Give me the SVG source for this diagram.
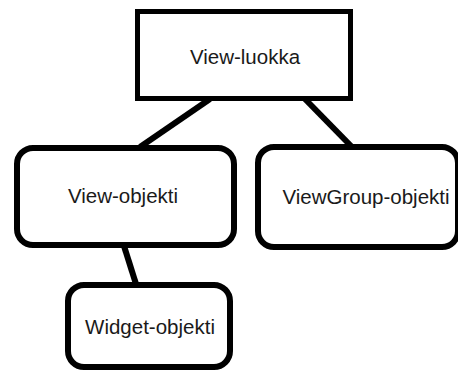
<svg xmlns="http://www.w3.org/2000/svg" width="458" height="371" viewBox="0 0 458 371">
<style>
.box{fill:#fff;stroke:#000;stroke-width:6}
.lbl{font-family:"Liberation Sans",Arial,sans-serif;font-size:20.5px;fill:#1a1a1a;text-anchor:middle}
.conn{stroke:#000;stroke-width:6;fill:none}
</style>
<rect width="458" height="371" fill="#fff"/>
<g id="connectors">
<line class="conn" x1="210" y1="99" x2="140" y2="147"/>
<line class="conn" x1="305" y1="99" x2="352" y2="147"/>
<line class="conn" x1="124" y1="246" x2="136" y2="284"/>
</g>
<g id="view-luokka">
<rect class="box" x="137.5" y="11.5" width="213" height="87" style="stroke-width:5"/>
<text class="lbl" x="245" y="63.5">View-luokka</text>
</g>
<g id="view-objekti">
<rect class="box" x="17" y="148" width="217" height="97" rx="16" ry="16"/>
<text class="lbl" x="123" y="203">View-objekti</text>
</g>
<g id="viewgroup-objekti">
<rect class="box" x="258" y="147" width="200" height="100" rx="16" ry="16"/>
<text class="lbl" x="366" y="204">ViewGroup-objekti</text>
</g>
<g id="widget-objekti">
<rect class="box" x="68" y="285" width="162" height="82" rx="16" ry="16"/>
<text class="lbl" x="150" y="334">Widget-objekti</text>
</g>
</svg>
